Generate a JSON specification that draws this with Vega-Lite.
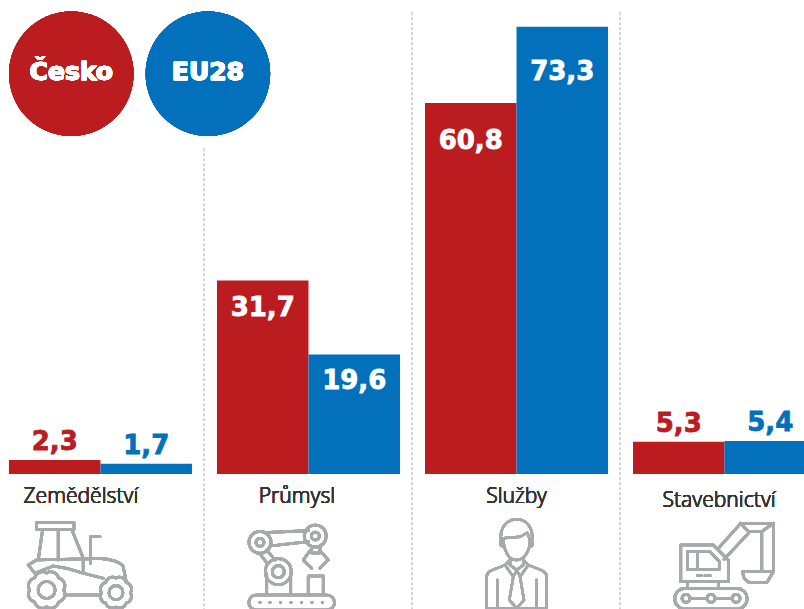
{"$schema":"https://vega.github.io/schema/vega-lite/v6.json","width":804,"height":609,"padding":0,"autosize":{"type":"none"},"background":"white","config":{"view":{"stroke":null},"locale":{"number":{"decimal":",","thousands":" ","grouping":[3],"currency":["","Kč"]}}},
"datasets":{"bars":[{"g":"Zemědělství","s":"Česko","v":2.3},{"g":"Zemědělství","s":"EU28","v":1.7},{"g":"Průmysl","s":"Česko","v":31.7},{"g":"Průmysl","s":"EU28","v":19.6},{"g":"Služby","s":"Česko","v":60.8},{"g":"Služby","s":"EU28","v":73.3},{"g":"Stavebnictví","s":"Česko","v":5.3},{"g":"Stavebnictví","s":"EU28","v":5.4}],
"rules":[{"g":"Průmysl","top":53.4},{"g":"Služby","top":75.7},{"g":"Stavebnictví","top":75.7}]},
"data":{"name":"bars"},
"encoding":{"x":{"field":"g","type":"nominal","axis":null,"scale":{"domain":["Zemědělství","Průmysl","Služby","Stavebnictví"],"range":[0,825],"paddingInner":0.1202,"paddingOuter":0.043}},
"y":{"field":"v","type":"quantitative","axis":null,"stack":null,"scale":{"domain":[-22.13,77.7],"nice":false,"zero":false}}},
"layer":[
{"data":{"name":"rules"},"mark":{"type":"rule","color":"#a9abae","strokeWidth":1,"strokeDash":[3,2]},"encoding":{"x":{"field":"g","type":"nominal","bandPosition":-0.071},"y":{"field":"top","type":"quantitative"},"y2":{"datum":-22.13}}},
{"mark":{"type":"bar"},"encoding":{"xOffset":{"field":"s","type":"nominal","scale":{"domain":["Česko","EU28"],"paddingInner":0,"paddingOuter":0}},"color":{"field":"s","type":"nominal","legend":null,"scale":{"domain":["Česko","EU28"],"range":["#bb1c20","#0270bb"]}}}},
{"transform":[{"filter":"datum.v<10"}],"mark":{"type":"text","font":"DejaVu Sans","fontWeight":"bold","fontSize":26,"baseline":"alphabetic","dy":-10,"strokeWidth":0.8},"encoding":{"xOffset":{"field":"s","type":"nominal"},"text":{"field":"v","type":"quantitative","format":".1f","formatType":"number"},"color":{"field":"s","type":"nominal"},"stroke":{"field":"s","type":"nominal","legend":null,"scale":{"domain":["Česko","EU28"],"range":["#bb1c20","#0270bb"]}}}},
{"transform":[{"filter":"datum.v>10 && datum.v<40"}],"mark":{"type":"text","font":"DejaVu Sans","fontWeight":"bold","fontSize":26,"baseline":"alphabetic","dy":35,"fill":"white","stroke":"white","strokeWidth":0.8},"encoding":{"xOffset":{"field":"s","type":"nominal"},"text":{"field":"v","type":"quantitative","format":".1f"}}},
{"transform":[{"filter":"datum.v>40 && datum.v<70"}],"mark":{"type":"text","font":"DejaVu Sans","fontWeight":"bold","fontSize":26,"baseline":"alphabetic","dy":46,"fill":"white","stroke":"white","strokeWidth":0.8},"encoding":{"xOffset":{"field":"s","type":"nominal"},"text":{"field":"v","type":"quantitative","format":".1f"}}},
{"transform":[{"filter":"datum.v>70"}],"mark":{"type":"text","font":"DejaVu Sans","fontWeight":"bold","fontSize":26,"baseline":"alphabetic","dy":53,"fill":"white","stroke":"white","strokeWidth":0.8},"encoding":{"xOffset":{"field":"s","type":"nominal"},"text":{"field":"v","type":"quantitative","format":".1f"}}},
{"mark":{"type":"point","filled":true,"opacity":1,"size":15500,"shape":"circle","color":"#bb1c20"},"encoding":{"x":{"datum":"Zemědělství","bandPosition":0.3405},"y":{"datum":65.6}}},
{"mark":{"type":"point","filled":true,"opacity":1,"size":15500,"shape":"circle","color":"#0270bb"},"encoding":{"x":{"datum":"Zemědělství","bandPosition":1.087},"y":{"datum":65.6}}},
{"mark":{"type":"text","text":"Česko","font":"DejaVu Sans","fontWeight":"bold","fontSize":25,"fill":"white","stroke":"white","strokeWidth":0.6,"baseline":"alphabetic","dy":6.5},"encoding":{"x":{"datum":"Zemědělství","bandPosition":0.3405},"y":{"datum":65.6}}},
{"mark":{"type":"text","text":"EU28","font":"DejaVu Sans","fontWeight":"bold","fontSize":25,"fill":"white","stroke":"white","strokeWidth":0.6,"baseline":"alphabetic","dy":6.5},"encoding":{"x":{"datum":"Zemědělství","bandPosition":1.087},"y":{"datum":65.6}}},
{"mark":{"type":"text","text":"Zemědělství","font":"Noto Sans","fontWeight":300,"fontSize":21,"color":"#333333","baseline":"alphabetic","dy":29},"encoding":{"x":{"datum":"Zemědělství","bandPosition":0.393},"y":{"datum":0}}},
{"mark":{"type":"text","text":"Průmysl","font":"Noto Sans","fontWeight":300,"fontSize":21,"color":"#333333","baseline":"alphabetic","dy":29},"encoding":{"x":{"datum":"Průmysl","bandPosition":0.437},"y":{"datum":0}}},
{"mark":{"type":"text","text":"Služby","font":"Noto Sans","fontWeight":300,"fontSize":21,"color":"#333333","baseline":"alphabetic","dy":29},"encoding":{"x":{"datum":"Služby","bandPosition":0.5},"y":{"datum":0}}},
{"mark":{"type":"text","text":"Stavebnictví","font":"Noto Sans","fontWeight":300,"fontSize":21,"color":"#333333","baseline":"alphabetic","dy":33},"encoding":{"x":{"datum":"Stavebnictví","bandPosition":0.47},"y":{"datum":0}}},
{"mark":{"type":"point","filled":false,"opacity":1,"size":4,"color":"#a7a9ac","strokeWidth":2.7,"strokeJoin":"round","strokeCap":"round","shape":"M-63.8 48.7H-26.5V55.3H-63.8ZM-57.8 55.3L-62.2 86M-28.8 55.3L-17.2 84.3M-42.2 55.3V86M-9.8 89.3V62.7H-0.5M-72.2 91L-63.8 86L-0.5 84.3C10 85 20 88 22.8 92.7L25.5 106M-72.2 91L-65.5 99.3L-47.2 92L-33.8 94.3L-17.2 99.3L2.8 104.3M-35.5 121H-0.5M-17.2 84.3V97.7M-36.8 116A8 8 0 0 1 -41.8 128A8 8 0 0 1 -53.8 133A8 8 0 0 1 -65.8 128A8 8 0 0 1 -70.8 116A8 8 0 0 1 -65.8 104A8 8 0 0 1 -53.8 99A8 8 0 0 1 -41.8 104A8 8 0 0 1 -36.8 116ZM-62.3 116A8.5 8.5 0 1 0 -45.3 116A8.5 8.5 0 1 0 -62.3 116ZM30 118.7A7 7 0 0 1 25.8 129A7 7 0 0 1 15.5 133.2A7 7 0 0 1 5.2 129A7 7 0 0 1 1 118.7A7 7 0 0 1 5.2 108.4A7 7 0 0 1 15.5 104.2A7 7 0 0 1 25.8 108.4A7 7 0 0 1 30 118.7ZM8.5 118.7A7 7 0 1 0 22.5 118.7A7 7 0 1 0 8.5 118.7Z"},"encoding":{"x":{"datum":"Zemědělství","bandPosition":0.5},"y":{"datum":0}}},
{"mark":{"type":"point","filled":false,"opacity":1,"size":4,"color":"#a7a9ac","strokeWidth":2.7,"strokeJoin":"round","strokeCap":"round","shape":"M-59.5 68.3A11 11 0 1 0 -37.5 68.3A11 11 0 1 0 -59.5 68.3ZM-52.5 68.3A4 4 0 1 0 -44.5 68.3A4 4 0 1 0 -52.5 68.3ZM-4.2 62A11 11 0 1 0 17.8 62A11 11 0 1 0 -4.2 62ZM2.8 62A4 4 0 1 0 10.8 62A4 4 0 1 0 2.8 62ZM-43.5 58.7L-0.2 56.7M-38.5 72L-0.2 67.7M-41.8 76L-33.5 86M-48.5 80L-41.2 89.3M-43.2 97.7A13 13 0 1 0 -17.2 97.7A13 13 0 1 0 -43.2 97.7ZM-36.2 97.7A6 6 0 1 0 -24.2 97.7A6 6 0 1 0 -36.2 97.7ZM-41.8 99.3V121M-17.8 99.3V121M-0.2 121V102H14.8V121M-52.2 121H18.5A7.5 7.5 0 0 1 18.5 136H-52.2A7.5 7.5 0 0 1 -52.2 121ZM3.2 72.7V79H11.5V72.7M1.5 76.7L-5.2 86L3.2 94.3M11.5 76.7L19.8 86L11.5 94.3M-48.5 128.3V128.6M-38.5 128.3V128.6M-27.8 128.3V128.6M-17.5 128.3V128.6M-6.8 128.3V128.6M3.5 128.3V128.6M14.2 128.3V128.6"},"encoding":{"x":{"datum":"Průmysl","bandPosition":0.5},"y":{"datum":0}}},
{"mark":{"type":"point","filled":false,"opacity":1,"size":4,"color":"#a7a9ac","strokeWidth":2.4,"strokeJoin":"round","strokeCap":"round","shape":"M-15.2 68C-18 52 -8 45.3 0.2 45.3C8 45.3 18 52 15.2 68M-13.2 64.3L3.5 62.7L10.8 58.7L13.5 66M-13.2 64.3C-13 75 -9 86 0.2 86C9 86 13.5 75 13.5 66M-14 66C-17 67 -17 72 -13 73M14 66C17 67 17 72 13.5 73M-6.5 84.3V91M6.8 84.3V91M-6.5 86L-11.5 91L-3.2 102.7L0.2 96L3.5 102.7L11.8 91L6.8 86M-6.5 91L0.2 96L6.8 91M-3.2 102.7L-7.2 126L0.2 134.3L7.5 126L3.5 102.7M-29.8 134.3V102.7C-29.8 96 -20 95 -11.5 91M30.2 134.3V102.7C30.2 96 20 95 11.8 91M-19.2 106V134.3M20.2 106V134.3M-29.8 134.3H30.2"},"encoding":{"x":{"datum":"Služby","bandPosition":0.5},"y":{"datum":0}}},
{"mark":{"type":"point","filled":false,"opacity":1,"size":4,"color":"#a7a9ac","strokeWidth":2.7,"strokeJoin":"round","strokeCap":"round","shape":"M-43.8 71H-11.2L3.8 86V107.7H-43.8ZM-37.2 77.7H-14.5L-5.2 87.7V95.3H-37.2ZM-27.2 77.7V95.3M-27.2 101.7H-22.8M-19.5 101.7H-14.5M-6.2 74.3L16.2 49.3H48.8V96M-0.5 85.3L23.8 59.3M16.2 49.3L23.8 57.7H37.2L48.8 49.3M37.2 57.7V96M18.2 97.7H48.8L42.2 108.7H27.2C22 108.7 18.2 104 18.2 97.7ZM-37.2 107.7V114.3M-6.2 107.7V114.3M-39.5 114.3H12.2A10.3 10.3 0 0 1 12.2 135H-39.5A10.3 10.3 0 0 1 -39.5 114.3ZM-42.5 124.3A4 4 0 1 0 -34.5 124.3A4 4 0 1 0 -42.5 124.3ZM-17.5 124.3A4 4 0 1 0 -9.5 124.3A4 4 0 1 0 -17.5 124.3ZM7.5 124.3A4 4 0 1 0 15.5 124.3A4 4 0 1 0 7.5 124.3ZM-34.5 124.3H-17.5M-9.5 124.3H7.5"},"encoding":{"x":{"datum":"Stavebnictví","bandPosition":0.5},"y":{"datum":0}}}
]}
